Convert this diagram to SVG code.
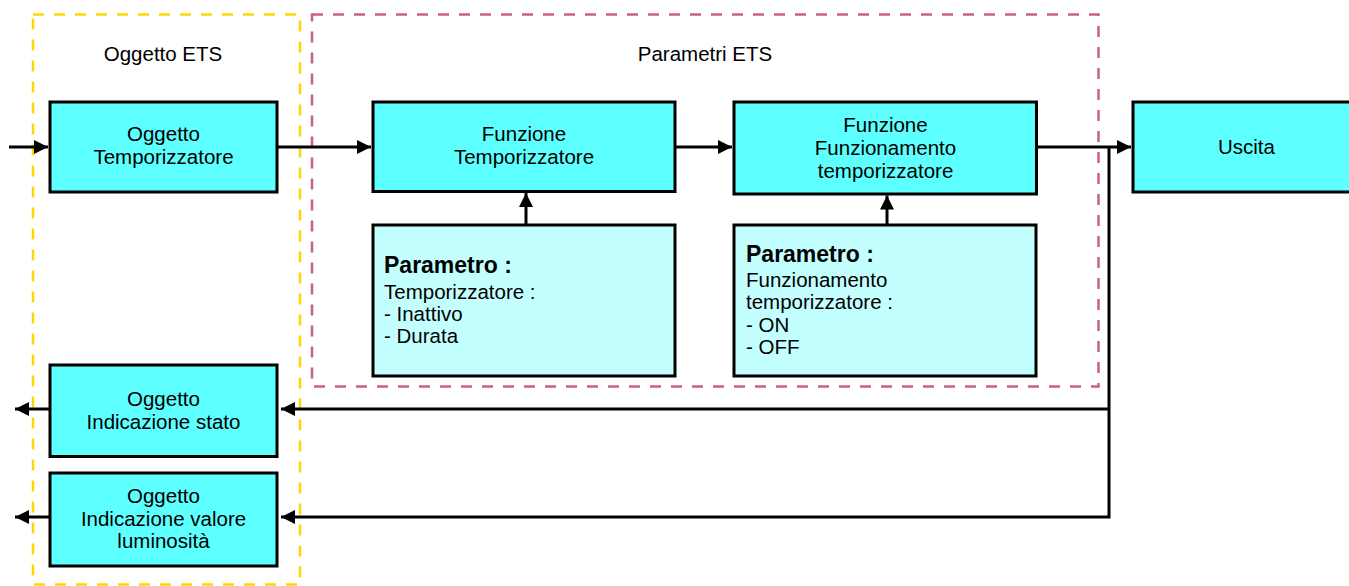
<svg xmlns="http://www.w3.org/2000/svg" width="1349" height="586" viewBox="0 0 1349 586">
<style>
.box{fill:#5EFFFF;stroke:#000;stroke-width:3}
.pbox{fill:#C4FFFF;stroke:#000;stroke-width:3}
.t{font-family:"Liberation Sans",Arial,sans-serif;font-size:20.5px;fill:#000}
.c{text-anchor:middle}
.b{font-weight:bold;font-size:23px}
.conn{fill:none;stroke:#000;stroke-width:3;stroke-linejoin:miter}
.grp{fill:none;stroke-width:2.5;stroke-dasharray:11 10}
</style>
<defs>
<marker id="arr" markerUnits="userSpaceOnUse" markerWidth="15" markerHeight="15" refX="14" refY="7" orient="auto">
<path d="M0,0 L14,7 L0,14 z" fill="#000"/>
</marker>
</defs>
<rect width="1349" height="586" fill="#fff"/>
<g id="group-oggetto-ets">
<rect class="grp" x="33" y="14.5" width="267" height="570" stroke="#FFD700"/>
<text class="t c" x="163" y="61">Oggetto ETS</text>
</g>
<g id="group-parametri-ets">
<rect class="grp" x="312" y="14.5" width="786.5" height="372" stroke="#CC5F8A"/>
<text class="t c" x="705" y="61">Parametri ETS</text>
</g>
<g id="connectors">
<path class="conn" d="M9,147 H48" marker-end="url(#arr)"/>
<path class="conn" d="M277,147 H371" marker-end="url(#arr)"/>
<path class="conn" d="M676,147 H732" marker-end="url(#arr)"/>
<path class="conn" d="M1037,147 H1131" marker-end="url(#arr)"/>
<path class="conn" d="M1109,147 V517 H281" marker-end="url(#arr)"/>
<path class="conn" d="M1109,409 H281" marker-end="url(#arr)"/>
<path class="conn" d="M526,225 V193" marker-end="url(#arr)"/>
<path class="conn" d="M887,225 V195.5" marker-end="url(#arr)"/>
<path class="conn" d="M50,409 H15" marker-end="url(#arr)"/>
<path class="conn" d="M50,517 H15" marker-end="url(#arr)"/>
</g>
<g id="oggetto-temporizzatore">
<rect class="box" x="50" y="102" width="227" height="90"/>
<text class="t c" x="163.5" y="141">Oggetto</text>
<text class="t c" x="163.5" y="164">Temporizzatore</text>
</g>
<g id="funzione-temporizzatore">
<rect class="box" x="373" y="102" width="302" height="89.5"/>
<text class="t c" x="524" y="141">Funzione</text>
<text class="t c" x="524" y="164">Temporizzatore</text>
</g>
<g id="funzione-funzionamento">
<rect class="box" x="734" y="102" width="302.5" height="92"/>
<text class="t c" x="885.5" y="132">Funzione</text>
<text class="t c" x="885.5" y="155">Funzionamento</text>
<text class="t c" x="885.5" y="178">temporizzatore</text>
</g>
<g id="uscita">
<rect class="box" x="1133" y="102" width="227" height="90"/>
<text class="t c" x="1246.5" y="154">Uscita</text>
</g>
<g id="parametro-temporizzatore">
<rect class="pbox" x="373" y="225" width="302" height="151"/>
<text class="t b" x="384" y="273">Parametro :</text>
<text class="t" x="384" y="298.5">Temporizzatore :</text>
<text class="t" x="384" y="320.5">- Inattivo</text>
<text class="t" x="384" y="342.5">- Durata</text>
</g>
<g id="parametro-funzionamento">
<rect class="pbox" x="734" y="225" width="302" height="151"/>
<text class="t b" x="746" y="262">Parametro :</text>
<text class="t" x="746" y="287">Funzionamento</text>
<text class="t" x="746" y="309">temporizzatore :</text>
<text class="t" x="746" y="331.5">- ON</text>
<text class="t" x="746" y="354">- OFF</text>
</g>
<g id="oggetto-indicazione-stato">
<rect class="box" x="50" y="365" width="227" height="91.5"/>
<text class="t c" x="163.5" y="405.5">Oggetto</text>
<text class="t c" x="163.5" y="428.5">Indicazione stato</text>
</g>
<g id="oggetto-indicazione-luminosita">
<rect class="box" x="50" y="473" width="227" height="93"/>
<text class="t c" x="163.5" y="503">Oggetto</text>
<text class="t c" x="163.5" y="525.5">Indicazione valore</text>
<text class="t c" x="163.5" y="547.5">luminosità</text>
</g>
</svg>
